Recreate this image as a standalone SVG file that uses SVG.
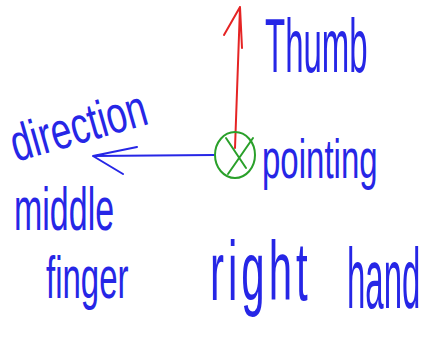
<svg xmlns="http://www.w3.org/2000/svg" width="428" height="338" viewBox="0 0 428 338">
<style>
.t{font-family:"Liberation Sans",Arial,sans-serif;fill:#2626e6}
.c{fill:none;stroke-width:2;stroke-linecap:round;stroke-linejoin:round}
</style>
<rect width="428" height="338" fill="#fff"/>
<g id="connectors">
<path class="c" stroke="#e52424" d="M235,148 L240,7 M224,35 L240,7 L242,48"/>
<path class="c" stroke="#2626e6" d="M214,155 L93,156 M137,147 L93,156 L123,174"/>
</g>
<g id="node-circle">
<ellipse cx="235" cy="155" rx="20" ry="23" fill="none" stroke="#2aa02a" stroke-width="2"/>
<path class="c" stroke="#2aa02a" d="M226,138 L246,168 M253,138 L228,174"/>
</g>
<g id="label-thumb"><text class="t" font-size="33" transform="translate(265,72) scale(1,2.3)">Thumb</text></g>
<g id="label-pointing"><text class="t" font-size="33" transform="translate(262,178) scale(1,1.7)">pointing</text></g>
<g id="label-direction"><text class="t" font-size="37" transform="rotate(-16 16 162) translate(16,162) scale(1,1.4)">direction</text></g>
<g id="label-middle"><text class="t" font-size="34" transform="translate(14,230) scale(1,1.8)">middle</text></g>
<g id="label-finger"><text class="t" font-size="33" transform="translate(46,298) scale(1,1.8)">finger</text></g>
<g id="label-right"><text class="t" font-size="42" letter-spacing="4" transform="translate(210,300) scale(1,2)">right</text></g>
<g id="label-hand"><text class="t" font-size="33" transform="translate(347,308) scale(1,2.6)">hand</text></g>
</svg>
